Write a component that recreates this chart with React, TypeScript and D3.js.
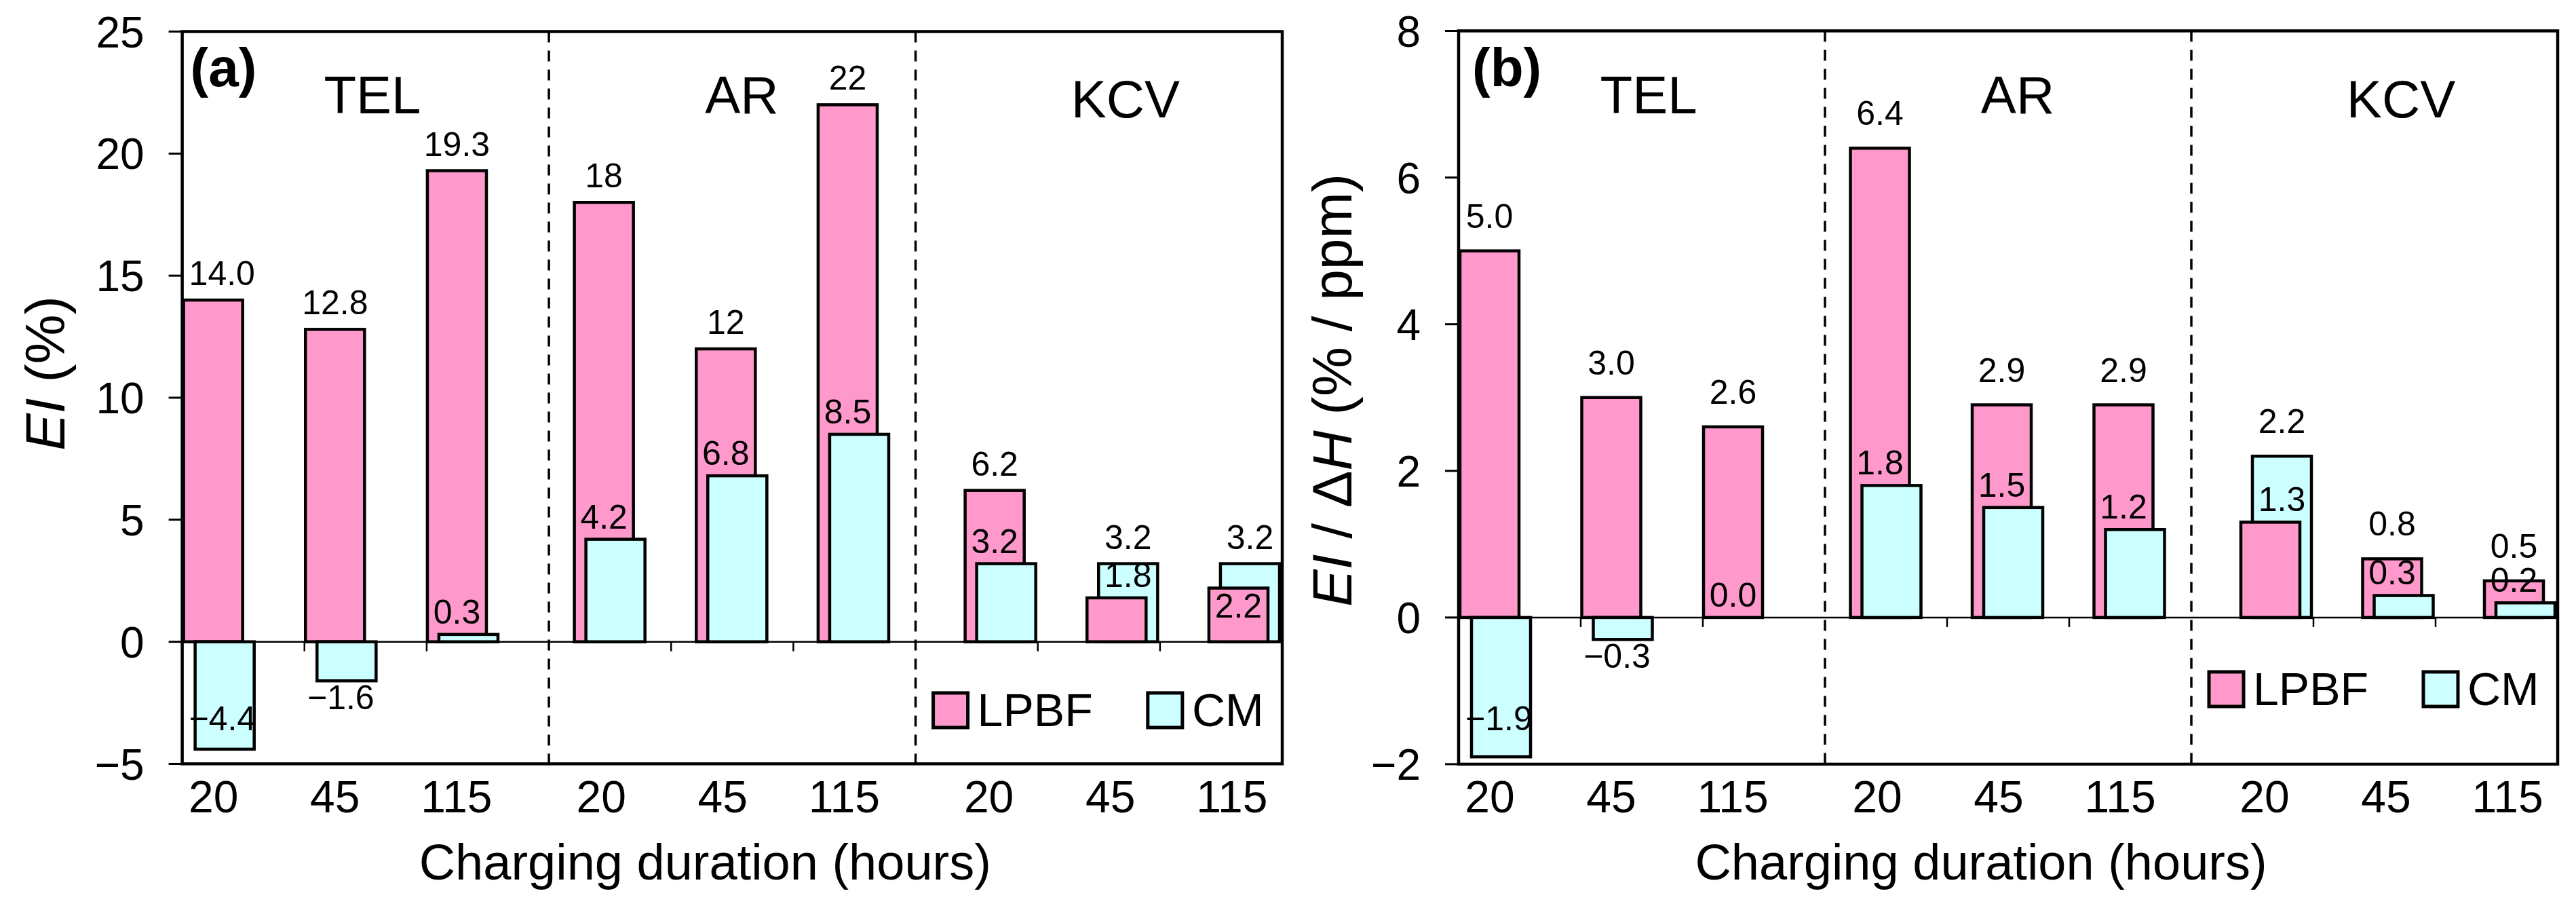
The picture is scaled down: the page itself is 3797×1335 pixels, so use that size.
import React from 'react';
import * as d3 from 'd3';

// ---------- data ----------
const groups = ['TEL', 'AR', 'KCV'];
const hours = ['20', '45', '115'];
const seriesNames = ['LPBF', 'CM'];

const elLPBF = [14.0, 12.8, 19.3, 18, 12, 22, 6.2, 1.8, 2.2];
const elCM = [-4.4, -1.6, 0.3, 4.2, 6.8, 8.5, 3.2, 3.2, 3.2];
const elLPBFText = ['14.0', '12.8', '19.3', '18', '12', '22', '6.2', '1.8', '2.2'];
const elCMText = ['\u22124.4', '\u22121.6', '0.3', '4.2', '6.8', '8.5', '3.2', '3.2', '3.2'];

const ehLPBF = [5.0, 3.0, 2.6, 6.4, 2.9, 2.9, 1.3, 0.8, 0.5];
const ehCM = [-1.9, -0.3, 0.0, 1.8, 1.5, 1.2, 2.2, 0.3, 0.2];
const ehLPBFText = ['5.0', '3.0', '2.6', '6.4', '2.9', '2.9', '1.3', '0.8', '0.5'];
const ehCMText = ['\u22121.9', '\u22120.3', '0.0', '1.8', '1.5', '1.2', '2.2', '0.3', '0.2'];

const ticksA = [-5, 0, 5, 10, 15, 20, 25];
const ticksB = [-2, 0, 2, 4, 6, 8];

// ---------- style ----------
const FONT = "'Liberation Sans', Arial, Helvetica, sans-serif";
const PINK = '#FF99CC';
const CYAN = '#CCFFFF';

const panels = [
  {
    key: 'a', tag: '(a)', left: 268.6, right: 1890, top: 46.5, bottom: 1125.5,
    domain: [-5, 25], ticks: ticksA, lpbf: elLPBF, cm: elCM, lpbfText: elLPBFText, cmText: elCMText,
    gapTall: 22, legendTop: 1021, yTitleX: 95, yTitleY: 550, tagDx: 12,
  },
  {
    key: 'b', tag: '(b)', left: 2150, right: 3770, top: 45.5, bottom: 1126,
    domain: [-2, 8], ticks: ticksB, lpbf: ehLPBF, cm: ehCM, lpbfText: ehLPBFText, cmText: ehCMText,
    gapTall: 34, legendTop: 990, yTitleX: 1992, yTitleY: 575, tagDx: 20,
  },
];

const LABEL_FS = 50;
const charW = (c: string) => (c === '.' ? 0.278 : c === '\u2212' ? 0.584 : 0.556);
const textW = (s: string, fs: number) => s.split('').reduce((a, c) => a + charW(c), 0) * fs;

function Panel({ p }: { p: any }) {
  const W = p.right - p.left;
  const u = W / 1620; // reference unit
  const y = d3.scaleLinear().domain(p.domain).range([p.bottom, p.top]);
  const xCat = d3.scaleLinear().domain([0, 9]).range([p.left, p.right]);
  const GAP = 37 / 179.5;
  const nPos = 8 + 2 * GAP;
  const xBar = d3.scaleLinear().domain([0, nPos]).range([p.left + 2 * u, p.left + 2 * u + nPos * 179.5 * u]);
  const LGAP = 34 / 179;
  const nLab = 8 + 2 * LGAP;
  const xLab = d3.scaleLinear().domain([0, nLab]).range([p.left + 46 * u, p.left + 46 * u + nLab * 179 * u]);
  const bw = 87 * u;
  const cOff = 17 * u;
  const y0 = y(0);

  const cats = d3.range(9);
  const bars: any[] = [];
  const labels: any[] = [];

  const clampX = (cx: number, s: string) => {
    const hw = textW(s, LABEL_FS) / 2;
    if (cx - hw < p.left + 10) return p.left + 10 + hw;
    if (cx + hw > p.right - 4) return p.right - 4 - hw;
    return cx;
  };

  cats.forEach((i) => {
    const g = Math.floor(i / 3);
    const pos = i + g * GAP;
    const px = xBar(pos);
    const cx = px + cOff;
    const vals = [p.lpbf[i], p.cm[i]];
    const texts = [p.lpbfText[i], p.cmText[i]];
    const xs = [px, cx];
    const fills = [PINK, CYAN];
    const centers = [px + bw / 2, cx + bw / 2];
    // draw taller first, shorter on top
    const order = vals[0] >= vals[1] ? [0, 1] : [1, 0];
    order.forEach((k) => {
      const v = vals[k];
      bars.push(
        <rect key={`b${i}-${k}`} x={xs[k]} y={Math.min(y(v), y0)} width={bw} height={Math.abs(y(v) - y0)}
          fill={fills[k]} stroke="#000" strokeWidth={4.5} />
      );
    });
    const tall = order[0];
    const short = order[1];
    // labels
    [0, 1].forEach((k) => {
      const v = vals[k];
      const s = texts[k];
      let lx: number;
      let ly: number;
      if (v < 0) {
        lx = (centers[0] + centers[1]) / 2;
        ly = Math.min(y(v) + 42, p.bottom - 50);
      } else if (k === tall) {
        lx = centers[k];
        ly = y(v) - p.gapTall;
      } else {
        const tv = vals[tall];
        if (v > 0 && tv > 0 && v / tv > 0.65) {
          lx = centers[k];
          ly = y(v) + 43;
        } else {
          lx = centers[tall];
          ly = y(v) - 16;
        }
      }
      lx = clampX(lx, s);
      labels.push(
        <text key={`l${i}-${k}`} x={lx} y={ly} textAnchor="middle" fontSize={LABEL_FS} fontFamily={FONT} fill="#000">{s}</text>
      );
    });
  });

  const headingPos = [1.556, 4.578, 7.717];
  const sepX = xCat(6);

  return (
    <g>
      {/* separators */}
      {[3, 6].map((k) => (
        <line key={`sep${k}`} x1={xCat(k)} x2={xCat(k)} y1={p.top} y2={p.bottom} stroke="#000" strokeWidth={3.5} strokeDasharray="16 12" />
      ))}
      {/* zero line */}
      <line x1={p.left} x2={p.right} y1={y0} y2={y0} stroke="#000" strokeWidth={2.5} />
      {[1, 2, 4, 5, 7, 8].map((k) => (
        <line key={`zt${k}`} x1={xCat(k)} x2={xCat(k)} y1={y0} y2={y0 + 14} stroke="#000" strokeWidth={2.5} />
      ))}
      {bars}
      {labels}
      {/* frame */}
      <rect x={p.left} y={p.top} width={W} height={p.bottom - p.top} fill="none" stroke="#000" strokeWidth={4.5} />
      {/* y ticks */}
      {p.ticks.map((t: number) => (
        <g key={`yt${t}`}>
          <line x1={p.left - 20} x2={p.left} y1={y(t)} y2={y(t)} stroke="#000" strokeWidth={3} />
          <text x={p.left - 56} y={y(t)} dy="0.36em" textAnchor="end" fontSize={64} fontFamily={FONT}>{d3.format('')(t)}</text>
        </g>
      ))}
      {/* x tick labels */}
      {cats.map((i) => {
        const g = Math.floor(i / 3);
        return (
          <text key={`xl${i}`} x={xLab(i + g * LGAP)} y={1197} textAnchor="middle" fontSize={66} fontFamily={FONT}>{hours[i % 3]}</text>
        );
      })}
      {/* group headings */}
      {groups.map((gname, g) => (
        <text key={`h${g}`} x={xCat(headingPos[g])} y={g === 2 ? 173 : 167} textAnchor="middle" fontSize={78} fontFamily={FONT}>{gname}</text>
      ))}
      <text x={p.left + p.tagDx} y={127} fontSize={80} fontWeight="bold" fontFamily={FONT}>{p.tag}</text>
      {/* legend */}
      <rect x={sepX + 26 * u} y={p.legendTop} width={51} height={51} fill={PINK} stroke="#000" strokeWidth={5} />
      <text x={sepX + 91 * u} y={p.legendTop + 49} fontSize={68} fontFamily={FONT}>{seriesNames[0]}</text>
      <rect x={sepX + 342 * u} y={p.legendTop} width={51} height={51} fill={CYAN} stroke="#000" strokeWidth={5} />
      <text x={sepX + 407 * u} y={p.legendTop + 49} fontSize={68} fontFamily={FONT}>{seriesNames[1]}</text>
      {/* x title */}
      <text x={p.left + 770 * u} y={1296} textAnchor="middle" fontSize={74} fontFamily={FONT}>Charging duration (hours)</text>
      {/* y title */}
      <text transform={`translate(${p.yTitleX},${p.yTitleY}) rotate(-90)`} textAnchor="middle" fontSize={82} fontFamily={FONT}>
        {p.key === 'a' ? (
          <>
            <tspan fontStyle="italic">EI</tspan> (%)
          </>
        ) : (
          <>
            <tspan fontStyle="italic">EI</tspan> / Δ<tspan fontStyle="italic">H</tspan> (% / ppm)
          </>
        )}
      </text>
    </g>
  );
}

export default function App() {
  return (
    <>
      <style>{`html,body{margin:0;padding:0;background:#fff;}`}</style>
      <svg width={3797} height={1335} viewBox="0 0 3797 1335" style={{ display: 'block', background: '#fff' }}>
        <rect x={0} y={0} width={3797} height={1335} fill="#fff" />
        {panels.map((p) => (
          <Panel key={p.key} p={p} />
        ))}
      </svg>
    </>
  );
}
